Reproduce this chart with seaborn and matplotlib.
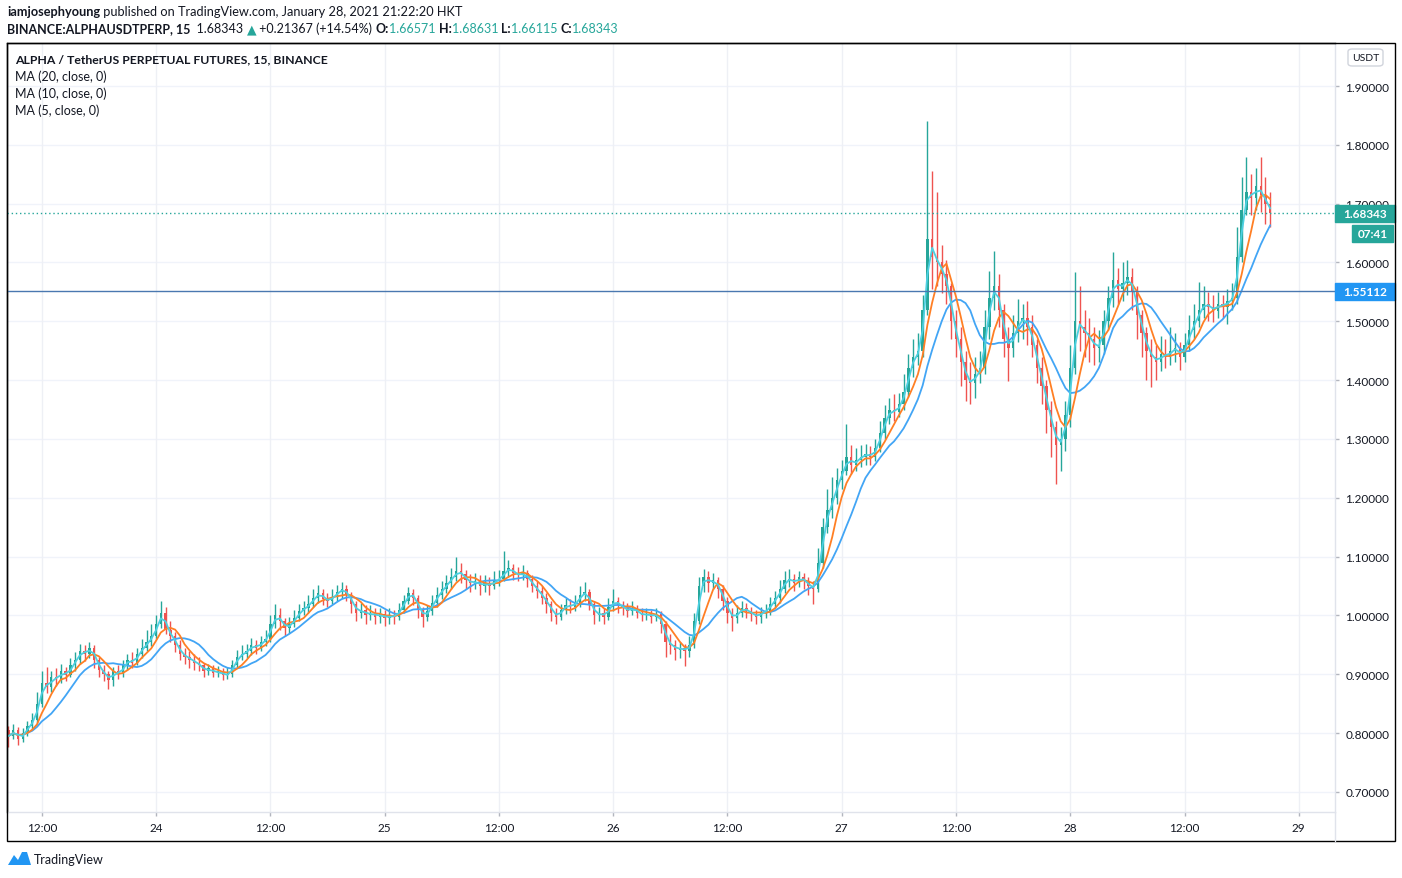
import numpy as np
import pandas as pd
import matplotlib
matplotlib.use("Agg")
import matplotlib.pyplot as plt
import matplotlib.dates as mdates
import matplotlib.transforms as mtrans
from matplotlib.patches import Rectangle, FancyBboxPatch, Polygon
import seaborn as sns

first_open = 0.805
close = [
    0.795, 0.805, 0.790, 0.800, 0.812, 0.822, 0.850, 0.885, 0.878, 0.895,
    0.892, 0.905, 0.898, 0.915, 0.925, 0.940, 0.935, 0.945, 0.925, 0.908,
    0.900, 0.890, 0.905, 0.900, 0.915, 0.925, 0.920, 0.935, 0.945, 0.955,
    0.965, 0.985, 1.005, 0.975, 0.965, 0.950, 0.935, 0.930, 0.925, 0.920,
    0.915, 0.905, 0.910, 0.902, 0.905, 0.898, 0.900, 0.915, 0.930, 0.935,
    0.940, 0.950, 0.945, 0.955, 0.960, 0.985, 1.000, 0.990, 0.978, 0.985,
    0.995, 1.008, 1.012, 1.020, 1.030, 1.038, 1.028, 1.025, 1.032, 1.040,
    1.045, 1.035, 1.020, 1.005, 1.010, 1.000, 1.005, 0.998, 1.002, 0.995,
    1.000, 0.998, 1.010, 1.025, 1.038, 1.030, 1.010, 0.998, 1.008, 1.022,
    1.035, 1.045, 1.055, 1.065, 1.075, 1.070, 1.060, 1.055, 1.058, 1.050,
    1.055, 1.050, 1.060, 1.062, 1.075, 1.080, 1.072, 1.068, 1.072, 1.062,
    1.050, 1.042, 1.030, 1.020, 1.005, 0.998, 1.010, 1.018, 1.015, 1.022,
    1.035, 1.040, 1.020, 1.000, 1.005, 0.998, 1.015, 1.025, 1.018, 1.012,
    1.008, 1.012, 1.005, 1.000, 1.003, 0.998, 1.002, 0.985, 0.955, 0.950,
    0.942, 0.945, 0.940, 0.950, 0.990, 1.050, 1.065, 1.055, 1.060, 1.045,
    1.025, 1.005, 0.995, 1.005, 1.012, 1.008, 1.002, 0.998, 1.005, 1.008,
    1.020, 1.030, 1.045, 1.060, 1.062, 1.055, 1.065, 1.058, 1.050, 1.045,
    1.090, 1.150, 1.180, 1.200, 1.230, 1.245, 1.270, 1.255, 1.265, 1.270,
    1.275, 1.270, 1.285, 1.310, 1.335, 1.350, 1.345, 1.360, 1.380, 1.420,
    1.440, 1.450, 1.520, 1.640, 1.610, 1.600, 1.580, 1.560, 1.500, 1.470,
    1.430, 1.400, 1.395, 1.410, 1.420, 1.490, 1.540, 1.560, 1.520, 1.470,
    1.455, 1.480, 1.500, 1.505, 1.490, 1.460, 1.420, 1.390, 1.350, 1.320,
    1.290, 1.300, 1.340, 1.420, 1.500, 1.490, 1.480, 1.470, 1.455, 1.460,
    1.500, 1.540, 1.570, 1.555, 1.565, 1.575, 1.550, 1.510, 1.480, 1.450,
    1.440, 1.430, 1.445, 1.440, 1.450, 1.455, 1.440, 1.460, 1.485, 1.500,
    1.520, 1.530, 1.525, 1.518, 1.530, 1.525, 1.535, 1.540, 1.610, 1.690,
    1.720, 1.710, 1.730, 1.715, 1.700, 1.68343,
]
high = [
    0.812, 0.815, 0.810, 0.808, 0.820, 0.835, 0.870, 0.905, 0.912, 0.905,
    0.910, 0.918, 0.912, 0.928, 0.938, 0.952, 0.950, 0.955, 0.950, 0.930,
    0.915, 0.905, 0.912, 0.915, 0.925, 0.935, 0.938, 0.945, 0.960, 0.975,
    0.985, 1.000, 1.025, 1.015, 0.990, 0.972, 0.958, 0.945, 0.940, 0.935,
    0.930, 0.920, 0.918, 0.915, 0.914, 0.910, 0.912, 0.925, 0.942, 0.950,
    0.952, 0.962, 0.958, 0.965, 0.975, 1.000, 1.020, 1.012, 0.995, 0.998,
    1.010, 1.020, 1.025, 1.035, 1.045, 1.052, 1.045, 1.038, 1.045, 1.052,
    1.057, 1.052, 1.040, 1.025, 1.022, 1.018, 1.018, 1.012, 1.012, 1.010,
    1.012, 1.010, 1.022, 1.035, 1.048, 1.045, 1.035, 1.015, 1.018, 1.035,
    1.048, 1.058, 1.068, 1.080, 1.099, 1.090, 1.078, 1.070, 1.072, 1.068,
    1.068, 1.065, 1.075, 1.078, 1.110, 1.095, 1.088, 1.082, 1.085, 1.078,
    1.068, 1.058, 1.050, 1.038, 1.025, 1.012, 1.020, 1.030, 1.028, 1.035,
    1.050, 1.057, 1.045, 1.025, 1.015, 1.012, 1.030, 1.045, 1.032, 1.025,
    1.022, 1.025, 1.018, 1.012, 1.012, 1.010, 1.012, 1.008, 0.990, 0.968,
    0.958, 0.955, 0.952, 0.965, 1.005, 1.065, 1.079, 1.075, 1.072, 1.065,
    1.052, 1.032, 1.012, 1.018, 1.025, 1.022, 1.015, 1.010, 1.015, 1.020,
    1.032, 1.042, 1.060, 1.075, 1.079, 1.070, 1.075, 1.072, 1.065, 1.058,
    1.115, 1.165, 1.215, 1.235, 1.250, 1.265, 1.325, 1.290, 1.285, 1.290,
    1.292, 1.288, 1.300, 1.330, 1.358, 1.370, 1.376, 1.378, 1.410, 1.445,
    1.470, 1.480, 1.545, 1.840, 1.755, 1.720, 1.630, 1.605, 1.565, 1.520,
    1.490, 1.450, 1.430, 1.440, 1.450, 1.520, 1.585, 1.620, 1.580, 1.530,
    1.490, 1.510, 1.538, 1.530, 1.535, 1.510, 1.470, 1.440, 1.400, 1.365,
    1.330, 1.320, 1.365, 1.460, 1.584, 1.560, 1.520, 1.505, 1.490, 1.485,
    1.520, 1.560, 1.618, 1.590, 1.600, 1.605, 1.590, 1.560, 1.520, 1.490,
    1.470, 1.460, 1.475, 1.470, 1.490, 1.480, 1.465, 1.480, 1.510, 1.530,
    1.567, 1.560, 1.550, 1.545, 1.550, 1.545, 1.555, 1.565, 1.660, 1.745,
    1.780, 1.750, 1.760, 1.780, 1.745, 1.720,
]
low = [
    0.776, 0.790, 0.780, 0.785, 0.795, 0.805, 0.818, 0.845, 0.868, 0.870,
    0.880, 0.885, 0.888, 0.895, 0.905, 0.918, 0.922, 0.928, 0.910, 0.895,
    0.888, 0.875, 0.880, 0.892, 0.895, 0.908, 0.910, 0.915, 0.928, 0.940,
    0.948, 0.960, 0.978, 0.968, 0.955, 0.938, 0.925, 0.918, 0.910, 0.908,
    0.905, 0.896, 0.898, 0.895, 0.896, 0.890, 0.892, 0.895, 0.910, 0.925,
    0.928, 0.932, 0.935, 0.940, 0.948, 0.955, 0.978, 0.975, 0.965, 0.970,
    0.980, 0.990, 1.000, 1.005, 1.015, 1.022, 1.018, 1.015, 1.020, 1.025,
    1.030, 1.025, 1.005, 0.990, 0.995, 0.985, 0.992, 0.985, 0.988, 0.982,
    0.985, 0.985, 0.992, 1.005, 1.020, 1.018, 0.995, 0.980, 0.990, 1.000,
    1.015, 1.028, 1.038, 1.045, 1.058, 1.055, 1.045, 1.040, 1.045, 1.035,
    1.040, 1.035, 1.045, 1.050, 1.058, 1.065, 1.060, 1.058, 1.060, 1.048,
    1.040, 1.030, 1.020, 1.005, 0.990, 0.985, 0.992, 1.002, 1.005, 1.008,
    1.015, 1.025, 1.010, 0.985, 0.990, 0.985, 0.992, 1.008, 1.005, 1.000,
    0.998, 1.000, 0.995, 0.990, 0.992, 0.988, 0.990, 0.970, 0.930, 0.935,
    0.925, 0.928, 0.914, 0.930, 0.945, 0.985, 1.040, 1.040, 1.045, 1.030,
    1.010, 0.988, 0.974, 0.988, 0.998, 0.995, 0.990, 0.985, 0.988, 0.995,
    1.000, 1.012, 1.022, 1.038, 1.048, 1.042, 1.048, 1.045, 1.035, 1.020,
    1.040, 1.080, 1.140, 1.165, 1.190, 1.215, 1.238, 1.240, 1.245, 1.252,
    1.255, 1.255, 1.262, 1.278, 1.300, 1.325, 1.330, 1.338, 1.350, 1.372,
    1.405, 1.425, 1.440, 1.510, 1.555, 1.560, 1.548, 1.530, 1.470, 1.440,
    1.390, 1.365, 1.360, 1.370, 1.395, 1.410, 1.470, 1.520, 1.490, 1.440,
    1.398, 1.440, 1.465, 1.470, 1.460, 1.440, 1.395, 1.360, 1.310, 1.270,
    1.223, 1.245, 1.280, 1.320, 1.410, 1.450, 1.440, 1.430, 1.425, 1.430,
    1.445, 1.485, 1.525, 1.530, 1.535, 1.545, 1.520, 1.470, 1.440, 1.400,
    1.388, 1.400, 1.415, 1.420, 1.425, 1.430, 1.418, 1.430, 1.450, 1.470,
    1.490, 1.505, 1.500, 1.498, 1.505, 1.505, 1.495, 1.520, 1.530, 1.600,
    1.680, 1.680, 1.690, 1.685, 1.665, 1.661,
]
last_price = 1.68343
marked_level = 1.55112
price_ticks = [0.7, 0.8, 0.9, 1.0, 1.1, 1.2, 1.3, 1.4, 1.5, 1.6, 1.7, 1.8, 1.9]

W, H = 1402, 879
GREEN, RED = "#26a69a", "#ef5350"
TXT = "#131722"

df = pd.DataFrame({"time": pd.date_range("2021-01-23 08:30", periods=len(close), freq="30min"),
                   "close": close, "high": high, "low": low})
df["open"] = [first_open] + close[:-1]
# windows in 30 min bars, matching the 15 min MA(20/10/5) spans
df["ma20"] = df["close"].rolling(10, min_periods=1).mean()
df["ma10"] = df["close"].rolling(5, min_periods=1).mean()
df["ma5"] = df["close"].rolling(2, min_periods=1).mean()
df["x"] = mdates.date2num(df["time"])

sns.set_theme(style="white")
plt.rcParams["font.family"] = ["Lato", "DejaVu Sans"]

fig = plt.figure(figsize=(W / 100, H / 100), dpi=100)
fig.patch.set_facecolor("white")
ax = fig.add_axes([7 / W, 1 - 813 / H, (1335 - 7) / W, (813 - 44) / H])

def px(x, y):
    return x / W, 1 - y / H

# grid
for p in price_ticks:
    ax.axhline(p, color="#f0f3fa", lw=1, zorder=0)
tick_times = pd.date_range("2021-01-23 12:00", "2021-01-29 00:00", freq="12h")
for t in tick_times:
    ax.axvline(mdates.date2num(t), color="#eef0f5", lw=1, zorder=0)

# candles
up = df["close"] >= df["open"]
cols = np.where(up, GREEN, RED)
bar_w = 0.5 / 48
ax.vlines(df["x"], df["low"], df["high"], colors=cols, lw=1, zorder=2)
body = (df["close"] - df["open"]).where(lambda s: s.abs() > 0.002, 0.002)
ax.bar(df["x"], body, bottom=df["open"], width=bar_w, color=cols, lw=0, zorder=2)

# moving averages
sns.lineplot(data=df, x="x", y="ma20", color="#42a5f5", lw=1.3, ax=ax, zorder=3)
sns.lineplot(data=df, x="x", y="ma10", color="#ff7f24", lw=1.3, ax=ax, zorder=3)
sns.lineplot(data=df, x="x", y="ma5", color="#4dd0e1", lw=1.3, ax=ax, zorder=3)

ax.axhline(marked_level, color="#4a78b0", lw=1, zorder=4)
ax.axhline(last_price, color=GREEN, lw=1, ls=(0, (1, 2)), zorder=4)

t0 = pd.Timestamp("2021-01-24 00:00")
ax.set_xlim(mdates.date2num(t0 - pd.Timedelta(hours=15.65)),
            mdates.date2num(t0 + pd.Timedelta(hours=123.8)))
ax.set_ylim(0.6659, 1.9731)
ax.set_xlabel("")
ax.set_ylabel("")

ax.set_xticks(mdates.date2num(tick_times))
ax.set_xticklabels(["12:00" if t.hour == 12 else str(t.day) for t in tick_times])
ax.yaxis.tick_right()
ax.set_yticks(price_ticks)
ax.set_yticklabels([f"{p:.5f}" for p in price_ticks])
ax.tick_params(axis="x", length=3, width=1, color="#b2b5be", pad=4, labelsize=8.5, labelcolor=TXT, bottom=True)
ax.tick_params(axis="y", length=3, width=1, color="#b2b5be", pad=4.5, labelsize=8.5, labelcolor=TXT, right=True)
for s in ["top", "left"]:
    ax.spines[s].set_color("black")
    ax.spines[s].set_linewidth(1)
for s in ["right", "bottom"]:
    ax.spines[s].set_color("#e0e3eb")
    ax.spines[s].set_linewidth(1)

# price scale labels
bt = mtrans.blended_transform_factory(ax.transAxes, ax.transData)
sc = (1395 - 1335) / (1335 - 7)
hh = 17 / 588.3
ax.add_patch(Rectangle((1.0, last_price - hh / 2), sc, hh, transform=bt, color=GREEN, clip_on=False, zorder=10))
ax.text(1.0 + sc / 2, last_price, "1.68343", transform=bt, ha="center", va="center",
        color="white", fontsize=8.5, fontweight="bold", zorder=11, clip_on=False)
ax.add_patch(Rectangle((1.0 + 17 / 1328, 1.650 - hh / 2), 41 / 1328, hh, transform=bt, color=GREEN, clip_on=False, zorder=10))
ax.text(1.0 + 37.5 / 1328, 1.650, "07:41", transform=bt, ha="center", va="center",
        color="white", fontsize=8.5, fontweight="bold", zorder=11, clip_on=False)
ax.add_patch(Rectangle((1.0, marked_level - hh / 2), sc, hh, transform=bt, color="#2196f3", clip_on=False, zorder=10))
ax.text(1.0 + sc / 2, marked_level, "1.55112", transform=bt, ha="center", va="center",
        color="white", fontsize=8.5, fontweight="bold", zorder=11, clip_on=False)

# USDT badge
x0, y0 = px(1348, 67)
fig.patches.append(FancyBboxPatch((x0, y0), 35 / W, 17 / H, boxstyle="round,pad=0,rounding_size=0.003",
                                  transform=fig.transFigure, fc="white", ec="#d1d4dc", lw=1))
fig.text(*px(1365.5, 58.5), "USDT", ha="center", va="center", fontsize=7.5, color=TXT)

# outer frame
fx, fy = px(7, 842)
fig.patches.append(Rectangle((fx, fy), (1395 - 7) / W, (842 - 44) / H, transform=fig.transFigure,
                             fill=False, ec="black", lw=1))
fig.add_artist(plt.Line2D([1335 / W, 1335 / W], [1 - 842 / H, 1 - 813 / H], color="#e0e3eb", lw=1))

renderer = fig.canvas.get_renderer()

def put_line(pieces, x, y, size=9):
    for s, color, weight in pieces:
        t = fig.text(*px(x, y), s, color=color, fontweight=weight, fontsize=size, ha="left", va="center")
        x += t.get_window_extent(renderer=renderer).width

put_line([("iamjosephyoung", TXT, "bold"),
          (" published on TradingView.com, January 28, 2021 21:22:20 HKT", TXT, "normal")], 7, 12, 9.2)
put_line([("BINANCE:ALPHAUSDTPERP, 15", TXT, "bold"), ("  1.68343 ", TXT, "normal"), ("▲", GREEN, "normal"),
          (" +0.21367 (+14.54%) ", TXT, "normal"),
          ("O:", TXT, "bold"), ("1.66571 ", GREEN, "normal"), ("H:", TXT, "bold"), ("1.68631 ", GREEN, "normal"),
          ("L:", TXT, "bold"), ("1.66115 ", GREEN, "normal"), ("C:", TXT, "bold"), ("1.68343", GREEN, "normal")], 7, 29)

fig.text(*px(15, 60), "ALPHA / TetherUS PERPETUAL FUTURES, 15, BINANCE", fontsize=8.8, fontweight="bold",
         color=TXT, va="center")
for i, lab in enumerate(["MA (20, close, 0)", "MA (10, close, 0)", "MA (5, close, 0)"]):
    fig.text(*px(15, 77 + 17 * i), lab, fontsize=9, color=TXT, va="center")

# TradingView logo
logo = [(8, 866), (14, 856), (18, 861), (22, 853), (27, 853), (31, 866)]
fig.patches.append(Polygon([px(a, b) for a, b in logo], closed=True, transform=fig.transFigure,
                           fc="#2196f3", ec="none"))
fig.text(*px(34, 860), "TradingView", fontsize=9, color=TXT, va="center")

fig.savefig("out.png", dpi=100)
